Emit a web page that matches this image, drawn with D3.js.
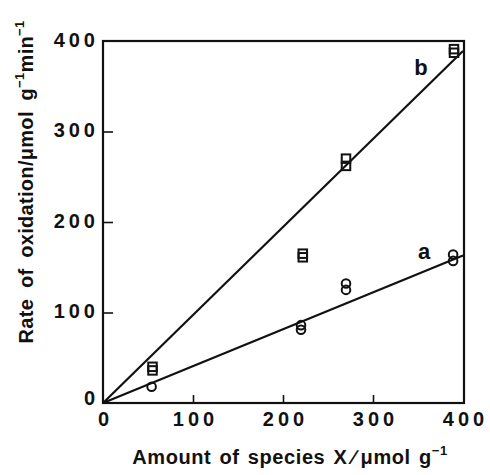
<!DOCTYPE html>
<html>
<head>
<meta charset="utf-8">
<script src="https://cdn.jsdelivr.net/npm/d3@7"></script>
<style>
  html, body { margin: 0; padding: 0; background: #fff; }
  svg text { font-family: "Liberation Sans", Arial, Helvetica, sans-serif; font-weight: bold; fill: #111; }
</style>
</head>
<body>
<svg id="chart" width="490" height="475"></svg>
<script>
// Tick values for both axes
const xTicks = [0, 100, 200, 300, 400];
const yTicks = [0, 100, 200, 300, 400];

// Series b (squares): amount of X vs rate of oxidation
const bX = [55, 55, 222, 222, 270, 270, 390, 390];
const bY = [36, 40, 161, 165, 262, 270, 387, 391];

// Series a (circles)
const aX = [54, 220, 220, 270, 270, 389, 389];
const aY = [18, 81, 86, 125, 132, 157, 164];

// Straight fits through the origin: [x, y] end points
const fitB = [[0, 0], [400, 389]];
const fitA = [[0, 0], [400, 163]];

const svg = d3.select("#chart");

const x = d3.scaleLinear().domain([0, 400]).range([103, 463]);
const y = d3.scaleLinear().domain([0, 400]).range([403, 41]);

// Frame
svg.append("rect")
  .attr("x", x(0)).attr("y", y(400))
  .attr("width", x(400) - x(0) + 1).attr("height", y(0) - y(400))
  .attr("fill", "none").attr("stroke", "#111").attr("stroke-width", 2.2);

const tickFont = g => g.selectAll("text")
  .attr("font-size", 20).attr("letter-spacing", 4).attr("fill", "#111")
  .attr("font-family", "Liberation Sans, Arial, sans-serif").attr("font-weight", "bold");

// Bottom axis with inward ticks
const xAxis = svg.append("g").attr("transform", `translate(0,${y(0)})`)
  .call(d3.axisBottom(x).tickValues(xTicks).tickSizeInner(-8).tickSizeOuter(0).tickPadding(9));
xAxis.select(".domain").remove();
xAxis.selectAll("line").attr("stroke", "#111").attr("stroke-width", 1.6);
xAxis.call(tickFont);
xAxis.selectAll("text").attr("dx", 2);
xAxis.selectAll(".tick").filter(d => d === 0 || d === 400).select("line").remove();

// Left axis with inward ticks
const yAxis = svg.append("g").attr("transform", `translate(${x(0)},0)`)
  .call(d3.axisLeft(y).tickValues(yTicks).tickSizeInner(-10).tickSizeOuter(0).tickPadding(4));
yAxis.select(".domain").remove();
yAxis.selectAll("line").attr("stroke", "#111").attr("stroke-width", 1.6);
yAxis.call(tickFont);
yAxis.selectAll("text").attr("dy", "0.25em");
yAxis.selectAll(".tick").filter(d => d === 0 || d === 400).select("line").remove();
yAxis.selectAll(".tick").filter(d => d === 0).select("text").attr("dy", "0.05em");

// Fit lines
const line = d3.line().x(d => x(d[0])).y(d => y(d[1]));
[fitB, fitA].forEach(f => {
  svg.append("path").attr("d", line(f))
    .attr("fill", "none").attr("stroke", "#111").attr("stroke-width", 2.2);
});

// Square markers (series b)
const sq = 8.5;
svg.append("g").selectAll("rect").data(bX.map((v, i) => [v, bY[i]])).join("rect")
  .attr("x", d => x(d[0]) - sq / 2).attr("y", d => y(d[1]) - sq / 2)
  .attr("width", sq).attr("height", sq)
  .attr("fill", "none").attr("stroke", "#111").attr("stroke-width", 2);

// Circle markers (series a)
svg.append("g").selectAll("circle").data(aX.map((v, i) => [v, aY[i]])).join("circle")
  .attr("cx", d => x(d[0])).attr("cy", d => y(d[1])).attr("r", 4.3)
  .attr("fill", "none").attr("stroke", "#111").attr("stroke-width", 2);

// Series letters
svg.append("text").attr("x", 421).attr("y", 75).attr("font-size", 22).attr("text-anchor", "middle").text("b");
svg.append("text").attr("x", 424).attr("y", 259).attr("font-size", 22).attr("text-anchor", "middle").text("a");

// X title
const xt = svg.append("text").attr("x", 290).attr("y", 464).attr("font-size", 20)
  .attr("text-anchor", "middle").attr("letter-spacing", 0.6).attr("word-spacing", 2);
xt.append("tspan").text("Amount of species X\u2009\u2215\u2009\u03bcmol  g");
xt.append("tspan").attr("font-size", 13).attr("dy", -9).text("\u22121");

// Y title
const yt = svg.append("text").attr("transform", "translate(33,182) rotate(-90)")
  .attr("font-size", 20).attr("text-anchor", "middle").attr("word-spacing", 5).attr("letter-spacing", 0.3);
yt.append("tspan").text("Rate of oxidation/\u03bcmol g");
yt.append("tspan").attr("font-size", 13).attr("dy", -9).text("\u22121");
yt.append("tspan").attr("dy", 9).text("min");
yt.append("tspan").attr("font-size", 13).attr("dy", -9).text("\u22121");
</script>
</body>
</html>
